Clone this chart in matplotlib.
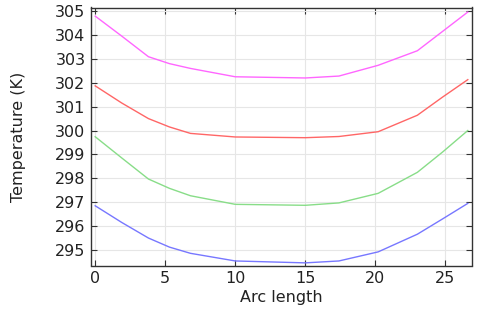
import matplotlib
matplotlib.use('Agg')
import matplotlib.pyplot as plt

arc = [0, 1.9, 3.8, 5.3, 6.8, 10.0, 15.0, 17.4, 20.2, 23.0, 24.8, 26.6]
t_pink = [304.79, 303.95, 303.09, 302.8, 302.6, 302.25, 302.2, 302.28, 302.73, 303.34, 304.15, 304.96]
t_red = [301.87, 301.15, 300.5, 300.15, 299.88, 299.73, 299.7, 299.75, 299.95, 300.64, 301.4, 302.13]
t_green = [299.74, 298.85, 297.97, 297.58, 297.27, 296.91, 296.87, 296.97, 297.37, 298.25, 299.1, 300.0]
t_blue = [296.85, 296.15, 295.5, 295.12, 294.86, 294.54, 294.46, 294.54, 294.92, 295.66, 296.3, 296.95]

series = [
    (t_pink, '#ff66ff'),
    (t_red, '#ff6666'),
    (t_green, '#88dd88'),
    (t_blue, '#7777ff'),
]

fig = plt.figure(figsize=(4.8, 3.11), dpi=100)
ax = fig.add_axes([91 / 480, 1 - 265.5 / 311, 381 / 480, 258 / 311])

for temps, col in series:
    ax.plot(arc, temps, color=col, lw=1.0)

ax.set_xlim(-0.3, 26.9)
ax.set_ylim(294.35, 305.15)
ax.set_xticks([0, 5, 10, 15, 20, 25])
ax.set_yticks(range(295, 306))
ax.grid(True, color='#e6e6e6', lw=0.8)
ax.set_axisbelow(True)
ax.tick_params(direction='in', top=True, right=True, labeltop=False, labelright=False,
               length=4, color='#333333', labelsize=11.5, labelcolor='#222222', pad=4)
for s in ax.spines.values():
    s.set_color('#333333')
    s.set_linewidth(1.0)

ax.set_xlabel('Arc length', fontsize=11.5, labelpad=3, color='#222222')
ax.set_ylabel('Temperature (K)', fontsize=11.5, labelpad=21, color='#222222')

fig.savefig('out.png', dpi=100)
